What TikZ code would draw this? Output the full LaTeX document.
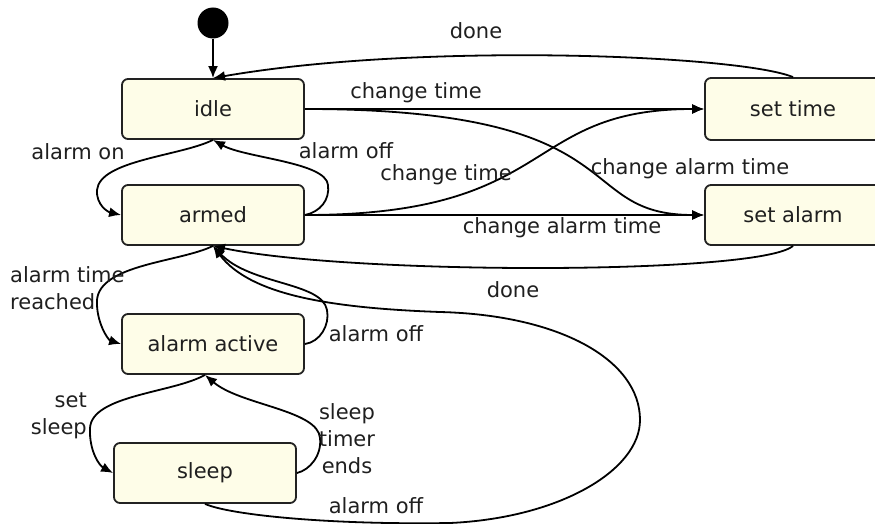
\documentclass[tikz,border=0pt]{standalone}
\usepackage{fontspec}
\setmainfont{DejaVu Sans}
\usetikzlibrary{arrows.meta,calc}

\definecolor{statefill}{HTML}{FEFDE8}
\definecolor{stateline}{HTML}{222222}

\tikzset{
  statebox/.style={rectangle, rounded corners=6pt, draw=stateline, fill=statefill,
    line width=1.8pt, minimum width=182pt, minimum height=60pt, inner sep=0pt,
    font=\fontsize{21}{26}\selectfont, text=black!88},
  lbl/.style={inner sep=0pt, font=\fontsize{21}{27}\selectfont, text=black!88},
  trans/.style={line width=1.8pt, draw=black,
    -{Latex[length=12pt,width=10pt]}}
}

\begin{document}
\begin{tikzpicture}[x=1pt,y=-1pt]
  \useasboundingbox (0,0) rectangle (875,524);
  \clip (0,0) rectangle (875,524);

  % initial pseudo-state and the states
  \node[circle, fill=black, minimum size=31pt, inner sep=0pt] (init) at (213,23) {};
  \node[statebox] (idle) at (213,109) {idle};
  \node[statebox] (armed) at (213,215) {armed};
  \node[statebox] (active) at (213,344) {alarm active};
  \node[statebox] (sleep) at (205,473) {sleep};
  \node[statebox, minimum width=176pt, minimum height=62pt] (settime) at (793,109) {set time};
  \node[statebox, minimum width=176pt, minimum height=60pt] (setalarm) at (793,215) {set alarm};

  \coordinate (activeb) at (sleep.north |- active.south);

  % transitions
  \draw[trans] (init) -- (idle.north);
  \draw[trans] (settime.north) .. controls (740,55) and (420,42) .. (idle.north);
  \draw[trans] (idle.east) -- (settime.west);
  \draw[trans] (idle.east) .. controls (640,109) and (570,215) .. (setalarm.west);
  \draw[trans] (armed.east) .. controls (560,215) and (520,109) .. (settime.west);
  \draw[trans] (armed.east) -- (setalarm.west);
  \draw[trans] (setalarm.south) .. controls (760,275) and (350,275) .. (armed.south);

  \draw[trans] (idle.south) .. controls (181,156) and (100,160) .. (97,190)
                .. controls (96,205) and (108,212) .. (armed.west);
  \draw[trans] (armed.east) .. controls (320,212) and (330,200) .. (328,185)
                .. controls (326,162) and (245,158) .. (idle.south);

  \draw[trans] (armed.south) .. controls (181,262) and (100,264) .. (97,300)
                .. controls (96,322) and (108,340) .. (active.west);
  \draw[trans] (active.east) .. controls (320,342) and (330,325) .. (327,310)
                .. controls (322,282) and (250,285) .. (armed.south);

  \draw[trans] (activeb) .. controls (173,393) and (92,395) .. (90,428)
                .. controls (89,452) and (100,466) .. (sleep.west);
  \draw[trans] (sleep.east) .. controls (310,470) and (322,455) .. (320,438)
                .. controls (318,410) and (240,405) .. (activeb);

  \draw[trans] (sleep.south) .. controls (230,515) and (330,525) .. (450,523)
                .. controls (560,518) and (640,470) .. (640,420)
                .. controls (640,360) and (560,315) .. (440,312)
                .. controls (330,308) and (250,295) .. (armed.south);

  % transition labels
  \node[lbl] (ldone1) at (476,31) {done};
  \node[lbl] (lct1) at (416,93) {change time};
  \node[lbl] (lon) at (78,152) {alarm on};
  \node[lbl] (loff1) at (346,151) {alarm off};
  \node[lbl] (lct2) at (446,175) {change time};
  \node[lbl] (lcat1) at (690,169) {change alarm time};
  \node[lbl] (lcat2) at (562,228) {change alarm time};
  \node[lbl] (ldone2) at (513,290) {done};
  \node[lbl, align=left, anchor=west] (lreach) at (10,288) {alarm time\\reached};
  \node[lbl] (loff2) at (376,334) {alarm off};
  \node[lbl, align=right, anchor=east] (lset) at (87,416) {set\\sleep};
  \node[lbl, align=center] (lends) at (347,439) {sleep\\timer\\ends};
  \node[lbl] (loff3) at (376,506) {alarm off};
\end{tikzpicture}
\end{document}
